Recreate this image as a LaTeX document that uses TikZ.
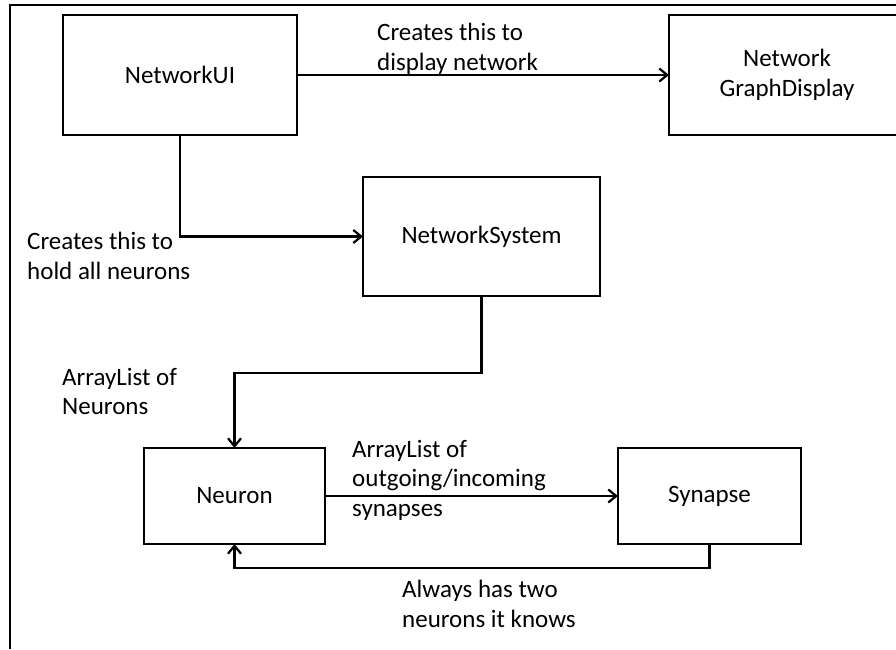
\documentclass[tikz,border=0pt]{standalone}
\usepackage{fontspec}
\setmainfont{Carlito}
\usetikzlibrary{arrows.meta}
\begin{document}
\begin{tikzpicture}[x=1pt,y=-1pt,
  every node/.style={font=\fontsize{25}{29.5}\selectfont},
  box/.style={draw,line width=2.2pt,inner sep=0pt,outer sep=0pt,align=center},
  lab/.style={anchor=north west,inner sep=0pt,align=left},
  conn/.style={line width=2.2pt},
  arr/.style={conn,-{Straight Barb[length=8pt,width=13pt,line width=2.2pt]}},
  frame/.style={line width=2pt}]
\useasboundingbox (0,0) rectangle (896,649);
% frame
\coordinate (fbl) at (10,649);
\coordinate (ftl) at (10,5);
\coordinate (ftr) at (896,5);
\draw[frame] (fbl) -- (ftl) -- (ftr);
% boxes
\node[box,minimum width=234pt,minimum height=120pt] (ui) at (180,75) {NetworkUI};
\node[box,minimum width=236pt,minimum height=120pt] (gd) at (787,75) {Network\\GraphDisplay};
\node[box,minimum width=237pt,minimum height=119pt] (ns) at (481.5,236.5) {NetworkSystem};
\node[box,minimum width=181pt,minimum height=96pt] (ne) at (234.5,496) {Neuron};
\node[box,minimum width=183pt,minimum height=96pt] (sy) at (709.5,496) {Synapse};
% connectors
\draw[arr] (ui) -- (gd);
\draw[arr] (ui.south) |- (ns.west);
\coordinate (k1) at (0,373);
\draw[arr] (ns.south) -- (ns.south |- k1) -| (ne.north);
\draw[arr] (ne) -- (sy);
\coordinate (k2) at (0,568);
\draw[arr] (sy.south) -- (sy.south |- k2) -| (ne.south);
% labels
\node[lab] (l1) at (377,23) {Creates this to\\display network};
\node[lab] (l2) at (27,232) {Creates this to\\hold all neurons};
\node[lab] (l3) at (62,368) {ArrayList of\\Neurons};
\node[lab] (l4) at (352,440) {ArrayList of\\outgoing/incoming\\synapses};
\node[lab] (l5) at (402,580) {Always has two\\neurons it knows};
\end{tikzpicture}
\end{document}
